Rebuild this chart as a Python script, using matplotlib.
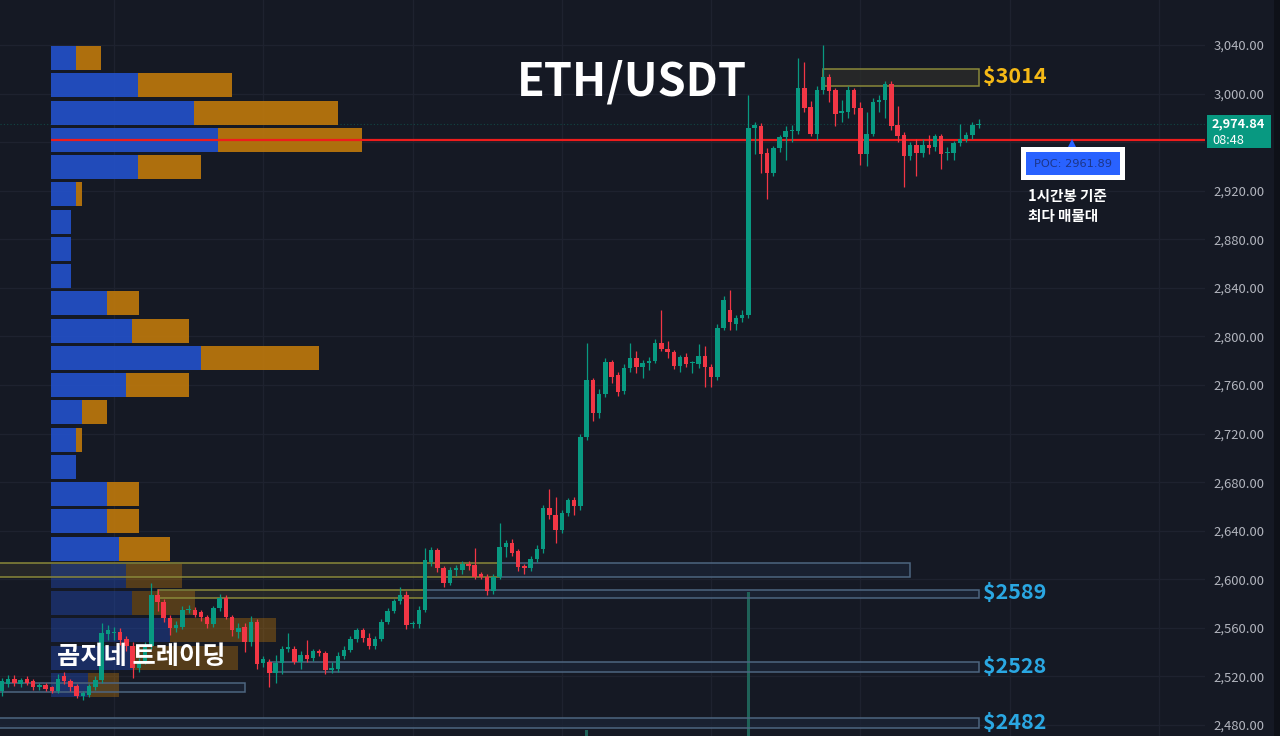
import matplotlib
matplotlib.use("Agg")
import matplotlib.pyplot as plt
from matplotlib.patches import Rectangle

plt.rcParams['font.family'] = ['Noto Sans CJK KR', 'DejaVu Sans']

W, H = 1280, 736
BG = '#151924'
UP = '#089981'
DOWN = '#f23645'

# ETH/USDT 1h candles, oldest first
opens = [
    2508, 2514, 2518, 2514, 2518, 2516, 2511, 2513, 2511, 2508,
    2520, 2516, 2512, 2504, 2505, 2511, 2517, 2555, 2556, 2557,
    2551, 2545, 2527, 2532, 2545, 2587, 2581, 2568, 2560, 2561,
    2575, 2575, 2573, 2569, 2563, 2576, 2585, 2569, 2557, 2561,
    2548, 2565, 2531, 2532, 2523, 2531, 2543, 2543, 2532, 2538,
    2535, 2541, 2539, 2525, 2526, 2537, 2542, 2551, 2558, 2552,
    2545, 2551, 2565, 2574, 2582, 2587, 2563, 2563, 2575, 2614,
    2624, 2609, 2597, 2608, 2608, 2613, 2612, 2604, 2602, 2590,
    2602, 2627, 2630, 2623, 2611, 2609, 2617, 2625, 2659, 2653,
    2641, 2655, 2665, 2660, 2717, 2764, 2737, 2753, 2779, 2768,
    2755, 2774, 2782, 2775, 2778, 2780, 2795, 2790, 2787, 2776,
    2783, 2778, 2777, 2784, 2775, 2767, 2807, 2822, 2810, 2815,
    2818, 2972, 2973, 2951, 2935, 2955, 2964, 2969, 2969, 3005,
    2989, 2967, 3003, 3014, 3003, 2984, 2985, 3003, 2988, 2950,
    2967, 2993, 2995, 3008, 2974, 2966, 2949, 2958, 2951, 2958,
    2956, 2965, 2951, 2951, 2959, 2963, 2966, 2974,
]
highs = [
    2519, 2521, 2521, 2519, 2520, 2518, 2515, 2515, 2512, 2522,
    2524, 2518, 2514, 2508, 2514, 2520, 2564, 2562, 2561, 2560,
    2553, 2548, 2535, 2548, 2597, 2592, 2584, 2571, 2566, 2578,
    2579, 2577, 2575, 2571, 2578, 2588, 2587, 2571, 2564, 2564,
    2570, 2567, 2537, 2534, 2538, 2545, 2556, 2545, 2541, 2550,
    2543, 2543, 2541, 2532, 2540, 2545, 2553, 2560, 2560, 2556,
    2553, 2567, 2576, 2584, 2594, 2590, 2566, 2578, 2626, 2627,
    2626, 2611, 2610, 2612, 2615, 2615, 2626, 2606, 2604, 2604,
    2646, 2632, 2633, 2625, 2613, 2619, 2628, 2661, 2674, 2668,
    2657, 2667, 2668, 2720, 2795, 2766, 2757, 2782, 2781, 2771,
    2777, 2795, 2788, 2781, 2783, 2798, 2822, 2796, 2789, 2785,
    2786, 2780, 2794, 2792, 2777, 2810, 2833, 2838, 2818, 2822,
    2999, 2977, 2976, 2955, 2957, 2966, 2973, 2974, 3029, 3026,
    2994, 3006, 3040, 3016, 3005, 2995, 3006, 3005, 2993, 2985,
    2996, 2999, 3010, 3010, 2990, 2968, 2960, 2963, 2963, 2966,
    2967, 2967, 2956, 2961, 2975, 2968, 2977, 2979,
]
lows = [
    2504, 2511, 2512, 2511, 2513, 2509, 2509, 2508, 2506, 2506,
    2514, 2508, 2502, 2501, 2503, 2509, 2515, 2550, 2550, 2546,
    2541, 2519, 2524, 2530, 2543, 2574, 2565, 2554, 2557, 2559,
    2572, 2569, 2566, 2560, 2561, 2574, 2567, 2553, 2552, 2540,
    2545, 2526, 2528, 2511, 2515, 2522, 2540, 2530, 2526, 2532,
    2533, 2537, 2522, 2523, 2524, 2534, 2540, 2548, 2548, 2543,
    2543, 2549, 2563, 2572, 2580, 2559, 2560, 2560, 2573, 2611,
    2606, 2594, 2595, 2603, 2604, 2608, 2600, 2600, 2587, 2588,
    2600, 2618, 2619, 2607, 2604, 2607, 2614, 2622, 2650, 2630,
    2638, 2652, 2653, 2657, 2715, 2730, 2733, 2750, 2762, 2751,
    2753, 2771, 2770, 2766, 2772, 2778, 2788, 2782, 2773, 2771,
    2775, 2770, 2774, 2758, 2758, 2764, 2805, 2805, 2805, 2812,
    2815, 2950, 2935, 2913, 2932, 2952, 2945, 2960, 2967, 2985,
    2965, 2962, 3000, 2993, 2973, 2977, 2980, 2983, 2941, 2940,
    2965, 2985, 2980, 2970, 2960, 2923, 2945, 2932, 2948, 2950,
    2953, 2938, 2945, 2945, 2957, 2960, 2963, 2972,
]
closes = [
    2516, 2518, 2515, 2517, 2515, 2511, 2513, 2510, 2508, 2518,
    2516, 2511, 2504, 2506, 2512, 2517, 2556, 2558, 2557, 2550,
    2545, 2527, 2532, 2545, 2587, 2581, 2568, 2560, 2562, 2575,
    2575, 2571, 2569, 2563, 2576, 2585, 2569, 2558, 2560, 2548,
    2565, 2530, 2534, 2523, 2531, 2543, 2543, 2532, 2538, 2534,
    2541, 2539, 2525, 2527, 2537, 2542, 2551, 2558, 2552, 2545,
    2551, 2565, 2574, 2582, 2587, 2562, 2563, 2575, 2616, 2624,
    2609, 2597, 2608, 2609, 2613, 2611, 2602, 2602, 2590, 2602,
    2627, 2630, 2622, 2610, 2609, 2617, 2625, 2659, 2653, 2641,
    2655, 2665, 2660, 2717, 2764, 2737, 2753, 2779, 2767, 2754,
    2774, 2782, 2775, 2778, 2780, 2795, 2790, 2787, 2776, 2783,
    2777, 2778, 2784, 2775, 2767, 2807, 2830, 2812, 2815, 2818,
    2972, 2974, 2950, 2935, 2955, 2964, 2969, 2970, 3005, 2988,
    2967, 3003, 3014, 3002, 2983, 2986, 3003, 2988, 2950, 2967,
    2993, 2995, 3008, 2973, 2965, 2949, 2958, 2951, 2958, 2955,
    2965, 2950, 2952, 2959, 2963, 2966, 2974, 2974.84,
]

# volume bars that show at the bottom edge
vol_idx = [94, 120]
vol_val = [1.5, 36.0]

# visible range volume profile (rows top to bottom)
vp_price = [3029.2, 3006.8, 2984.3, 2961.9, 2939.4, 2917.0, 2894.6, 2872.1,
            2849.7, 2827.2, 2804.8, 2782.4, 2759.9, 2737.5, 2715.0, 2692.6,
            2670.2, 2647.7, 2625.3, 2602.8, 2580.4, 2558.0, 2535.5, 2513.1]
vp_buy = [25, 87, 143, 167, 87, 25, 20, 20, 20, 56, 81, 150,
          75, 31, 25, 25, 56, 56, 68, 75, 81, 119, 82, 37]
vp_sell = [25, 94, 144, 144, 63, 6, 0, 0, 0, 32, 57, 118,
           63, 25, 6, 0, 32, 32, 51, 56, 63, 106, 105, 31]
vp_in_value_area = [True] * 19 + [False] * 5
poc = 2961.89
last_price = 2974.84

# supply / demand zones: start bar, end bar, low, high, kind
zone_start = [-1, 80, 25, 68, 43, -1, -1, 132]
zone_end = [80, 146, 68, 157, 157, 39, 157, 157]
zone_lo = [2602, 2602, 2584.6, 2584.6, 2523.7, 2507.2, 2477.5, 3006.2]
zone_hi = [2613.4, 2613.4, 2591.2, 2591.2, 2531.9, 2514.6, 2485.8, 3020.2]
zone_kind = ['y', 'b', 'y', 'b', 'b', 'b', 'b', 'y']

level_price = [3014, 2589, 2528, 2482]
level_color = ['#f5b916', '#2aa7e2', '#2aa7e2', '#2aa7e2']

price_ticks = list(range(2480, 3041, 40))

fig = plt.figure(figsize=(W / 100, H / 100), dpi=100, facecolor=BG)
ax = fig.add_axes([0, 0, 1205 / W, 1])
ax.set_facecolor(BG)

bar_px = 6.22
ax.set_xlim(-2 / bar_px, -2 / bar_px + 1205 / bar_px)
ax.set_ylim(2470.95, 3077.06)

# grid
ax.set_xticks(range(18, 194, 24))
ax.set_yticks(price_ticks)
ax.grid(True, color='#1e222f', linewidth=0.9, zorder=0)
ax.set_axisbelow(True)
ax.tick_params(axis='x', length=0, labelbottom=False)
ax.yaxis.tick_right()
ax.tick_params(axis='y', length=0, pad=6, labelsize=9.4, colors='#b2b5be')
# the 2,960 label sits under the last price tag
ax.set_yticklabels(['' if p == 2960 else f'{p:,.2f}' for p in price_ticks])
for s in ax.spines.values():
    s.set_visible(False)

# zones
for x0, x1, lo, hi, k in zip(zone_start, zone_end, zone_lo, zone_hi, zone_kind):
    if k == 'y':
        ec, fc = '#8a8839', '#2c2d2a'
    else:
        ec, fc = '#4d6580', '#1b2436'
    ax.add_patch(Rectangle((x0, lo), x1 - x0, hi - lo, facecolor=fc, alpha=0.75,
                           edgecolor='none', zorder=1))
    ax.add_patch(Rectangle((x0, lo), x1 - x0, hi - lo, facecolor='none',
                           edgecolor=ec, linewidth=1.1, zorder=4))

# volume profile
vp_left = (51 - 2) / bar_px
row_h = 22.44 * 0.88
for p, b, s, va in zip(vp_price, vp_buy, vp_sell, vp_in_value_area):
    a = 0.92 if va else 0.38
    ax.barh(p, b / bar_px, height=row_h, left=vp_left, color='#2350c8',
            alpha=a, zorder=2)
    if s > 0:
        ax.barh(p, s / bar_px, height=row_h, left=vp_left + b / bar_px,
                color='#bc770c', alpha=a, zorder=2)

# POC line
ax.hlines(poc, vp_left, ax.get_xlim()[1], color='#ee1c1c', linewidth=1.6, zorder=3.5)
# last price line
ax.axhline(last_price, color=UP, linewidth=0.8, linestyle=(0, (1, 2)), alpha=0.35, zorder=1)

# candles
idx = range(len(closes))
cols = [UP if c >= o else DOWN for o, c in zip(opens, closes)]
ax.vlines(idx, lows, highs, colors=cols, linewidth=0.9, zorder=5)
bottoms = [min(o, c) for o, c in zip(opens, closes)]
heights = [max(abs(c - o), 0.9) for o, c in zip(opens, closes)]
ax.bar(idx, heights, bottom=bottoms, width=0.72, color=cols, linewidth=0, zorder=6)

# volume bars (bottom pane, mostly cut off)
vtr = ax.get_xaxis_transform()
ax.bar(vol_idx, [v * 4 / H for v in vol_val], bottom=0, width=0.55,
       color='#1f6258', transform=vtr, zorder=1.5)

# level labels
lx = (983 - 2) / bar_px
for p, c in zip(level_price, level_color):
    ax.text(lx, p, f'${p}', color=c, fontsize=15.5, fontweight='bold',
            va='center', ha='left', zorder=7)

# POC marker
ax.plot((1072 - 2) / bar_px, 2958.3, marker='^', color='#2962ff', markersize=7,
        markeredgewidth=0, zorder=7)


def fx(x):
    return x / W


def fy(y):
    return 1 - y / H


fig.add_artist(Rectangle((fx(1021), fy(180)), 104 / W, 33 / H, transform=fig.transFigure,
                         facecolor='white', edgecolor='none', zorder=10))
fig.add_artist(Rectangle((fx(1026), fy(175)), 94 / W, 23 / H, transform=fig.transFigure,
                         facecolor='#2962ff', edgecolor='none', zorder=11))
fig.text(fx(1073), fy(164), f'POC: {poc}', color='#1c3588', fontsize=8.2,
         ha='center', va='center', family='DejaVu Sans', zorder=12)
fig.text(fx(1028), fy(188), '1시간봉 기준\n최다 매물대', color='white', fontsize=10.5,
         fontweight='bold', ha='left', va='top', linespacing=1.3, zorder=12)

# title and watermark
fig.text(fx(632), fy(82), 'ETH/USDT', color='white', fontsize=32.5, fontweight='bold',
         ha='center', va='center', zorder=12)
fig.text(fx(57), fy(657), '곰지네 트레이딩', color='white', fontsize=18.2,
         fontweight='bold', ha='left', va='center', zorder=12)

# last price tag on the scale
fig.add_artist(Rectangle((fx(1207), fy(148)), 64 / W, 33 / H, transform=fig.transFigure,
                         facecolor=UP, edgecolor='none', zorder=10))
fig.text(fx(1212), fy(124), f'{last_price:,.2f}', color='white', fontsize=9.2,
         fontweight='bold', ha='left', va='center', zorder=12)
fig.text(fx(1212), fy(140), '08:48', color='white', fontsize=9.2,
         ha='left', va='center', zorder=12)

# scrollbar strip at the right edge
fig.add_artist(Rectangle((fx(1274), 0), 6 / W, 1, transform=fig.transFigure,
                         facecolor='#0e1118', edgecolor='none', zorder=10))

fig.savefig('out.png', dpi=100, facecolor=BG)
